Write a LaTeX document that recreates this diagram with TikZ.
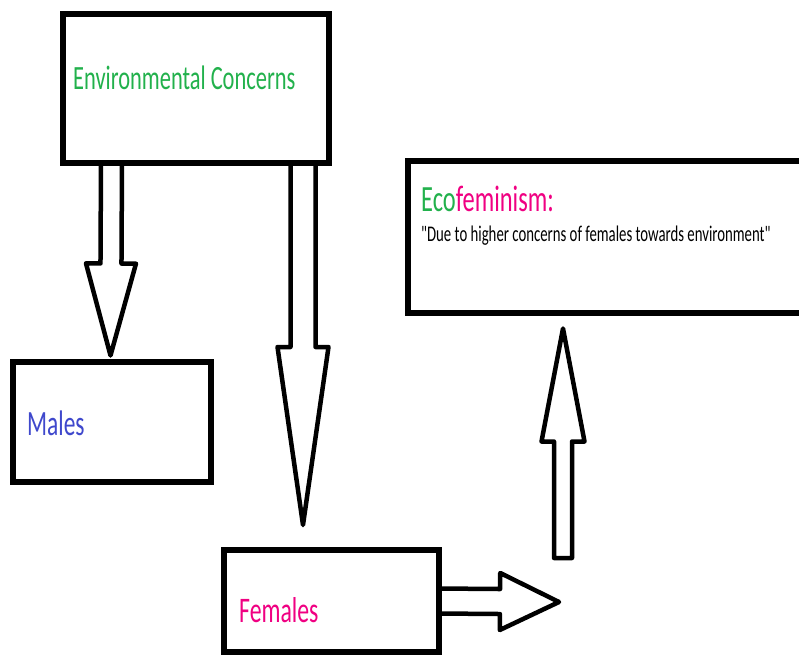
\documentclass[tikz,border=0pt]{standalone}
\usepackage{fontspec}
\setmainfont{Carlito}[FakeStretch=0.66]
\newfontfamily\quotefont{Carlito}[FakeStretch=0.66]
\usetikzlibrary{calc}

\definecolor{paintgreen}{RGB}{34,177,76}
\definecolor{paintpink}{RGB}{240,0,130}
\definecolor{paintblue}{RGB}{63,72,204}

\tikzset{
  box/.style={draw, rectangle, line width=6pt, inner sep=0pt, outer sep=0pt},
  boxtext/.style={anchor=base west, inner sep=0pt},
  arrowline/.style={draw, line width=4.5pt, line join=round},
}

% block arrow: from, to, shaft half width, head half width, head length
\newcommand{\blockarrow}[5]{%
  \coordinate (hb) at ($(#2)!#5!(#1)$);
  \draw[arrowline] ($(#1)!#3!90:(#2)$) -- ($(hb)!#3!-90:(#1)$) -- ($(hb)!#4!-90:(#1)$)
    -- (#2) -- ($(hb)!#4!90:(#1)$) -- ($(hb)!#3!90:(#1)$) -- ($(#1)!#3!-90:(#2)$) -- cycle;
}

\begin{document}
\begin{tikzpicture}[x=1pt, y=-1pt]
  \useasboundingbox (0,0) rectangle (799,655);
  \clip (0,0) rectangle (799,655);

  \node[box, minimum width=266pt, minimum height=148.5pt] (env) at (196,88.75) {};
  \node[box, minimum width=198pt, minimum height=120pt] (males) at (111.5,421.5) {};
  \node[box, minimum width=215pt, minimum height=102pt] (females) at (331.5,601) {};
  \node[box, minimum width=412pt, minimum height=152pt] (eco) at (613.5,236.5) {};

  \node[boxtext, text=paintgreen, font=\fontsize{34}{40}\selectfont] (envtxt) at (73,90) {Environmental Concerns};
  \node[boxtext, font=\fontsize{37}{44}\selectfont] (ecotxt) at (421,211) {\textcolor{paintgreen}{Eco}\textcolor{paintpink}{feminism:}};
  \node[boxtext, font=\quotefont\fontsize{22.4}{26}\selectfont] (quote) at (421,241) {"Due to higher concerns of females towards environment"};
  \node[boxtext, text=paintblue, font=\fontsize{35.5}{42}\selectfont] (malestxt) at (27,435) {Males};
  \node[boxtext, text=paintpink, font=\fontsize{36}{43}\selectfont] (femalestxt) at (239,622) {Females};

  \coordinate (ftip) at (303,525);
  \coordinate (ubase) at (563,558);

  \blockarrow{env.south -| males.north}{$(males.north)+(-1,-6)$}{10.5pt}{25pt}{92pt}
  \blockarrow{env.south -| ftip}{ftip}{12.5pt}{25.5pt}{178pt}
  \blockarrow{ubase}{$(eco.south -| ubase)+(0,16)$}{9pt}{21.5pt}{113pt}
  \blockarrow{females.east}{$(females.east)+(120,1)$}{12.5pt}{28.5pt}{59pt}
\end{tikzpicture}
\end{document}
